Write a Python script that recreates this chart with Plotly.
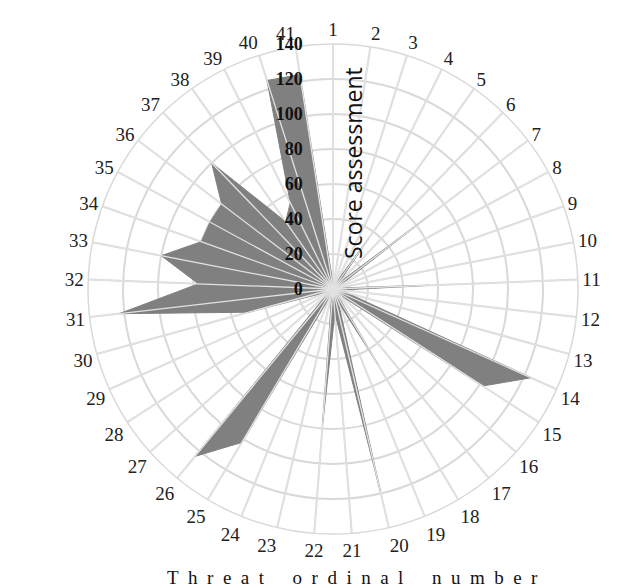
import plotly.graph_objects as go

categories = [str(i) for i in range(1, 42)]
scores = [3, 3, 3, 5, 35, 5, 70, 5, 3, 3,
          55, 5, 8, 124, 102, 5, 3, 50, 8, 119,
          14, 77, 3, 5, 102, 124, 5, 3, 5, 50,
          123, 77, 100, 80, 80, 80, 100, 47, 55, 125,
          124]
radial_ticks = [0, 20, 40, 60, 80, 100, 120, 140]
r_max = 140

theta = categories + [categories[0]]
r = scores + [scores[0]]

fig = go.Figure()
fig.add_trace(go.Scatterpolar(
    r=r, theta=theta, mode="lines", fill="toself",
    fillcolor="#808080", line=dict(color="#808080", width=1),
    hoverinfo="skip", showlegend=False,
))

# radial spokes drawn over the filled area (as in the reference)
spoke_theta, spoke_r = [], []
for c in categories:
    spoke_theta += [c, c, None]
    spoke_r += [0, r_max, None]
fig.add_trace(go.Scatterpolar(
    r=spoke_r, theta=spoke_theta, mode="lines",
    line=dict(color="#e2e2e2", width=1.3),
    hoverinfo="skip", showlegend=False, connectgaps=False,
))

pad = "\u00a0" * 6
W, H = 634, 587
cx, cy, R = 325, 281, 245
fig.update_layout(
    width=W, height=H,
    margin=dict(l=0, r=0, t=0, b=0),
    paper_bgcolor="white", plot_bgcolor="white",
    polar=dict(
        domain=dict(x=[(cx - R) / W, (cx + R) / W],
                    y=[(H - cy - R) / H, (H - cy + R) / H]),
        bgcolor="white",
        angularaxis=dict(
            rotation=90, direction="clockwise",
            categoryorder="array", categoryarray=categories,
            showline=True, linecolor="#d9d9d9", linewidth=1.5,
            gridcolor="#d9d9d9", gridwidth=1.5,
            ticks="", layer="above traces",
            tickfont=dict(family="Liberation Serif", size=19, color="#222222"),
        ),
        radialaxis=dict(
            range=[0, r_max], tickvals=radial_ticks,
            ticktext=[str(v) + pad for v in radial_ticks],
            angle=90, tickangle=90, side="counterclockwise",
            showline=False, ticks="",
            gridcolor="#d9d9d9", gridwidth=1.5, layer="above traces",
            tickfont=dict(family="Liberation Serif", size=18, color="#111111",
                          weight="bold"),
        ),
    ),
    annotations=[
        dict(text="Score assessment", x=345 / W, y=1 - 155 / H,
             xref="paper", yref="paper", showarrow=False, textangle=-90,
             xanchor="center", yanchor="middle",
             font=dict(family="Open Sans", size=23, color="#111111")),
        dict(text="\u2002".join(list("Threat")) + "\u2002\u2002\u2002"
             + "\u2002".join(list("ordinal")) + "\u2002\u2002\u2002"
             + "\u2002".join(list("number")),
             x=345 / W, y=1 - 569 / H, xref="paper", yref="paper",
             showarrow=False, xanchor="center", yanchor="middle",
             font=dict(family="Liberation Serif", size=19, color="#111111")),
    ],
)

fig.write_html("out.html")
